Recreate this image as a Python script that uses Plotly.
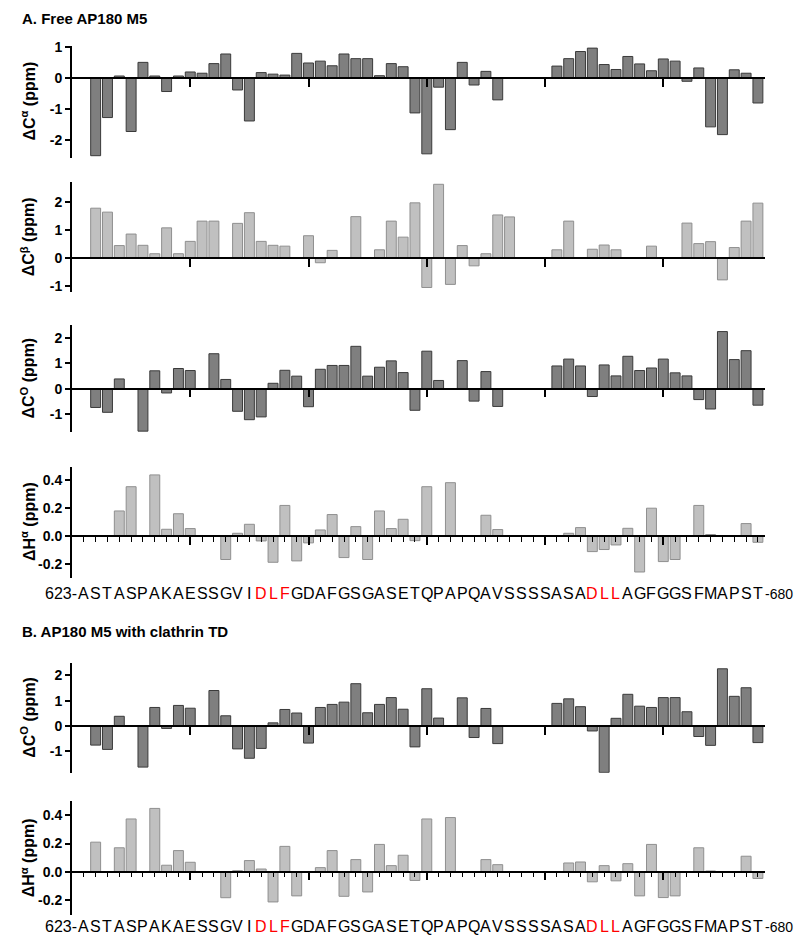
import plotly.graph_objects as go

# ---------------- data ----------------
positions = list(range(1, 59))  # residues 623..680
sequence = list("ASTASPAKAESSGVIDLFGDAFGSGASETQPAPQAVSSSSASADLLAGFGGSFMAPST")
red_positions = [16, 17, 18, 44, 45, 46]
seq_start_label = "623-"
seq_end_label = "-680"
N = None

free_ca = [N, -2.50, -1.27, 0.07, -1.72, 0.51, 0.07, -0.43, 0.07, 0.20,
           0.16, 0.47, 0.78, -0.38, -1.38, 0.18, 0.13, 0.10, 0.80, 0.49,
           0.55, 0.40, 0.78, 0.63, 0.63, 0.08, 0.47, 0.37, -1.12, -2.44,
           -0.29, -1.66, 0.51, -0.22, 0.22, -0.70, N, N, N, N,
           0.39, 0.63, 0.86, 0.97, 0.44, 0.28, 0.70, 0.46, 0.24, 0.62,
           0.55, -0.10, 0.33, -1.57, -1.82, 0.27, 0.16, -0.80]

free_cb = [N, 1.78, 1.64, 0.45, 0.86, 0.46, 0.16, 1.08, 0.16, 0.60,
           1.32, 1.32, N, 1.24, 1.62, 0.60, 0.46, 0.43, N, 0.80,
           -0.16, 0.28, N, 1.48, N, 0.30, 1.32, 0.75, 1.97, -1.04,
           2.63, -0.93, 0.45, -0.27, 0.16, 1.54, 1.47, N, N, N,
           0.30, 1.32, N, 0.32, 0.47, 0.30, N, N, 0.43, N,
           N, 1.25, 0.52, 0.59, -0.77, 0.38, 1.32, 1.96]

free_co = [N, -0.74, -0.93, 0.38, N, -1.67, 0.70, -0.17, 0.79, 0.71,
           N, 1.37, 0.36, -0.89, -1.22, -1.11, 0.21, 0.72, 0.49, -0.71,
           0.76, 0.91, 0.91, 1.66, 0.49, 0.84, 1.09, 0.63, -0.85, 1.47,
           0.32, N, 1.10, -0.49, 0.67, -0.70, N, N, N, N,
           0.89, 1.16, 0.89, -0.31, 0.93, 0.50, 1.27, 0.71, 0.81, 1.16,
           0.62, 0.50, -0.43, -0.80, 2.24, 1.14, 1.49, -0.65]

free_ha = [N, N, N, 0.18, 0.355, N, 0.44, 0.048, 0.16, 0.053,
           N, N, -0.17, 0.019, 0.084, -0.036, -0.19, 0.22, -0.18, -0.05,
           0.043, 0.154, -0.156, 0.067, -0.17, 0.18, 0.053, 0.12, -0.034, 0.355,
           N, 0.384, N, N, 0.149, 0.046, N, N, N, N,
           N, 0.019, 0.06, -0.113, -0.098, -0.065, 0.055, -0.26, 0.20, -0.185,
           -0.17, N, 0.22, 0.01, N, N, 0.089, -0.046]

td_co = [N, -0.76, -0.93, 0.38, N, -1.63, 0.73, -0.10, 0.81, 0.70,
         N, 1.40, 0.40, -0.91, -1.28, -0.89, 0.12, 0.65, 0.51, -0.68,
         0.73, 0.85, 0.94, 1.67, 0.52, 0.85, 1.12, 0.66, -0.83, 1.47,
         0.31, N, 1.11, -0.46, 0.69, -0.70, N, N, N, N,
         0.89, 1.07, 0.76, -0.20, -1.84, 0.30, 1.25, 0.78, 0.73, 1.12,
         1.12, 0.56, -0.42, -0.77, 2.26, 1.17, 1.51, -0.66]

td_ha = [N, 0.21, N, 0.17, 0.375, N, 0.45, 0.046, 0.15, 0.067,
         N, N, -0.185, 0.007, 0.079, 0.019, -0.215, 0.18, -0.172, N,
         0.029, 0.15, -0.175, 0.086, -0.144, 0.194, 0.043, 0.117, -0.062, 0.375,
         N, 0.385, N, N, 0.086, 0.05, N, N, N, N,
         N, 0.062, 0.069, -0.072, 0.043, -0.065, 0.057, -0.172, 0.194, -0.184,
         -0.172, N, 0.17, 0.005, N, N, 0.11, -0.048]

ticks_int_a = [-2, -1, 0, 1]
ticks_int_b = [-1, 0, 1, 2]
ticks_h = [-0.2, 0.0, 0.2, 0.4]
ticks_h_text = ["-0.2", "0.0", "0.2", "0.4"]
major_x_ticks = [10, 20, 30, 40, 50]

panel_a_title = "A. Free AP180 M5"
panel_b_title = "B. AP180 M5 with clathrin TD"

# ---------------- layout / style ----------------
W, H = 800, 948
X_L, X_R = 72, 765
X_RANGE = [0, 58.6]
FONT = "Liberation Sans, Arial, sans-serif"
DARK = dict(color="#7f7f7f", line=dict(color="#3a3a3a", width=1))
LIGHT = dict(color="#c0c0c0", line=dict(color="#8f8f8f", width=1))


def py(px):
    return 1 - px / H


def int_text(v):
    return [str(t) for t in v]


panels = [
    dict(vals=free_ca, style=DARK, rng=[-2.56, 1.05], top=39, bot=152,
         tv=ticks_int_a, tt=int_text(ticks_int_a), title="ΔC<sup>α</sup> (ppm)", minor=False),
    dict(vals=free_cb, style=LIGHT, rng=[-1.21, 2.70], top=177, bot=288,
         tv=ticks_int_b, tt=int_text(ticks_int_b), title="ΔC<sup>β</sup> (ppm)", minor=False),
    dict(vals=free_co, style=DARK, rng=[-1.7, 2.5], top=321, bot=429,
         tv=ticks_int_b, tt=int_text(ticks_int_b), title="ΔC<sup>O</sup> (ppm)", minor=False),
    dict(vals=free_ha, style=LIGHT, rng=[-0.30, 0.50], top=464, bot=576,
         tv=ticks_h, tt=ticks_h_text, title="ΔH<sup>α</sup> (ppm)", minor=True),
    dict(vals=td_co, style=DARK, rng=[-1.85, 2.5], top=662, bot=773,
         tv=ticks_int_b, tt=int_text(ticks_int_b), title="ΔC<sup>O</sup> (ppm)", minor=False),
    dict(vals=td_ha, style=LIGHT, rng=[-0.31, 0.50], top=802, bot=917,
         tv=ticks_h, tt=ticks_h_text, title="ΔH<sup>α</sup> (ppm)", minor=True),
]

fig = go.Figure()
layout = {}
annotations = []

for i, p in enumerate(panels, start=1):
    xa = "x" if i == 1 else f"x{i}"
    ya = "y" if i == 1 else f"y{i}"
    fig.add_trace(go.Bar(x=positions, y=p["vals"], xaxis=xa, yaxis=ya, width=0.84,
                         marker=p["style"], showlegend=False))
    dom = [py(p["bot"]), py(p["top"])]
    y0, y1 = p["rng"]
    zero_pos = dom[0] + (0 - y0) / (y1 - y0) * (dom[1] - dom[0])
    xdict = dict(domain=[X_L / W, X_R / W], range=X_RANGE, anchor="free", position=zero_pos,
                 showline=True, linecolor="black", linewidth=1.6, ticks="outside",
                 tickmode="array", tickvals=major_x_ticks, ticklen=8, tickwidth=1.6,
                 tickcolor="black", showticklabels=False, showgrid=False, zeroline=False)
    if p["minor"]:
        xdict["minor"] = dict(ticks="outside", tickmode="array", tickvals=positions,
                              ticklen=5, tickwidth=1.4, tickcolor="black", showgrid=False)
    layout["xaxis" if i == 1 else f"xaxis{i}"] = xdict
    layout["yaxis" if i == 1 else f"yaxis{i}"] = dict(
        domain=dom, range=p["rng"], anchor=xa, showline=True, linecolor="black", linewidth=2,
        ticks="outside", ticklen=5, tickwidth=2, tickcolor="black", tickmode="array",
        tickvals=p["tv"], ticktext=p["tt"], showgrid=False, zeroline=False,
        tickfont=dict(family=FONT, size=14, color="black", weight="bold"))
    annotations.append(dict(xref="paper", yref="paper", x=28 / W, y=(dom[0] + dom[1]) / 2,
                            text=p["title"], textangle=-90, showarrow=False,
                            xanchor="center", yanchor="middle",
                            font=dict(family=FONT, size=16, color="black", weight="bold")))

# sequence labels under the H-alpha panels
for xa, ypx in (("x4", 592), ("x6", 928)):
    for pos, aa in zip(positions, sequence):
        col = "#ff0000" if pos in red_positions else "black"
        annotations.append(dict(xref=xa, yref="paper", x=pos, y=py(ypx), text=aa,
                                showarrow=False, xanchor="center", yanchor="middle",
                                borderpad=0,
                                font=dict(family=FONT, size=16, color=col)))
    annotations.append(dict(xref=xa, yref="paper", x=0.5, y=py(ypx), text=seq_start_label,
                            showarrow=False, xanchor="right", yanchor="middle", borderpad=0,
                            font=dict(family=FONT, size=16, color="black")))
    annotations.append(dict(xref=xa, yref="paper", x=58.5, y=py(ypx + 1), text=seq_end_label,
                            showarrow=False, xanchor="left", yanchor="middle", borderpad=0,
                            font=dict(family=FONT, size=14, color="black")))

for txt, ypx in ((panel_a_title, 12), (panel_b_title, 630)):
    annotations.append(dict(xref="paper", yref="paper", x=20 / W, y=py(ypx), text=txt,
                            showarrow=False, xanchor="left", yanchor="middle",
                            font=dict(family=FONT, size=15, color="black", weight="bold")))

fig.update_layout(width=W, height=H, margin=dict(l=0, r=0, t=0, b=0),
                  paper_bgcolor="white", plot_bgcolor="white",
                  annotations=annotations, **layout)

fig.write_html("out.html", config={"displayModeBar": False},
               post_script="document.body.style.margin='0px';document.body.style.overflow='hidden';")
